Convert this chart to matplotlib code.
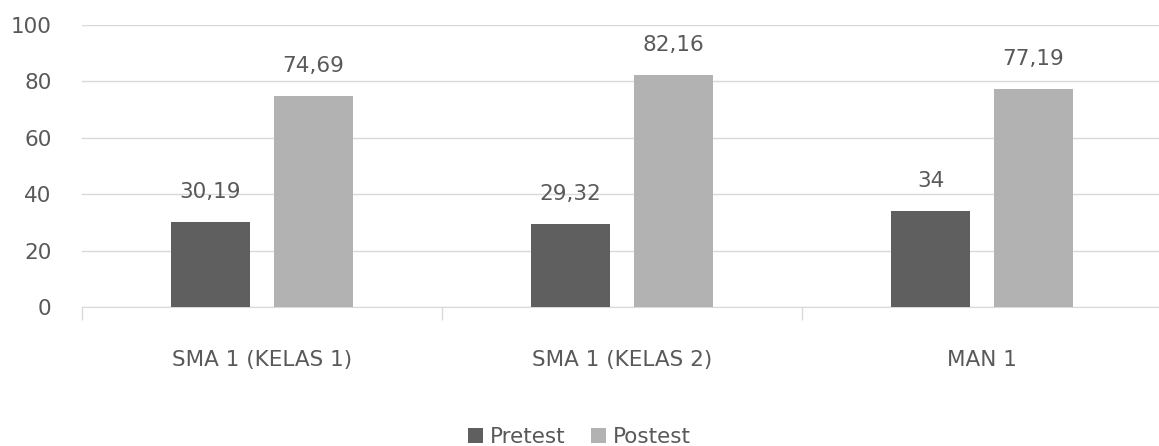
import matplotlib
matplotlib.use("Agg")
import matplotlib.pyplot as plt
import numpy as np

categories = ["SMA 1 (KELAS 1)", "SMA 1 (KELAS 2)", "MAN 1"]
pretest = [30.19, 29.32, 34]
postest = [74.69, 82.16, 77.19]
series_names = ["Pretest", "Postest"]
yticks = [0, 20, 40, 60, 80, 100]

def fmt(v):
    s = ("%.2f" % v).rstrip("0").rstrip(".")
    return s.replace(".", ",")

plt.rcParams['font.family'] = ['DejaVu Sans']
txt = "#595959"
dark = "#5f5f5f"
light = "#b2b2b2"
grid = "#d9d9d9"
fs = 15.5

fig = plt.figure(figsize=(11.59, 4.46), dpi=100)
ax = fig.add_axes([82/1159, 1-307/446, 1080/1159, 282/446])

x = np.arange(len(categories))
w = 0.22
off = 0.143
b1 = ax.bar(x - off, pretest, w, color=dark, label=series_names[0], zorder=3)
b2 = ax.bar(x + off, postest, w, color=light, label=series_names[1], zorder=3)

for bars, vals in ((b1, pretest), (b2, postest)):
    for r, v in zip(bars, vals):
        ax.annotate(fmt(v), (r.get_x() + r.get_width()/2, v), xytext=(0, 20),
                    textcoords='offset pixels', ha='center', va='bottom',
                    fontsize=fs, color=txt)

ax.set_ylim(0, 100)
ax.set_xlim(-0.5, len(categories) - 0.5)
ax.set_yticks(yticks)
ax.set_yticklabels([str(t) for t in yticks])
ax.yaxis.grid(True, color=grid, linewidth=1, zorder=0)
ax.tick_params(axis='y', length=0, pad=22, labelsize=fs, labelcolor=txt)
ax.set_xticks(x)
ax.set_xticklabels(categories)
ax.tick_params(axis='x', which='major', length=0, pad=31, labelsize=fs, labelcolor=txt)
ax.set_xticks(np.arange(-0.5, len(categories), 1.0), minor=True)
ax.tick_params(axis='x', which='minor', length=9, color=grid, width=1)
for s in ['top', 'right', 'left']:
    ax.spines[s].set_visible(False)
ax.spines['bottom'].set_color(grid)

fig.legend(handles=[b1, b2], labels=series_names, loc='center', bbox_to_anchor=(0.5, 1-437/446),
           ncol=2, frameon=False, fontsize=fs, labelcolor=txt, handlelength=0.7, handleheight=0.7,
           handletextpad=0.3, columnspacing=1.2, borderpad=0)

fig.savefig("out.png", dpi=100)
